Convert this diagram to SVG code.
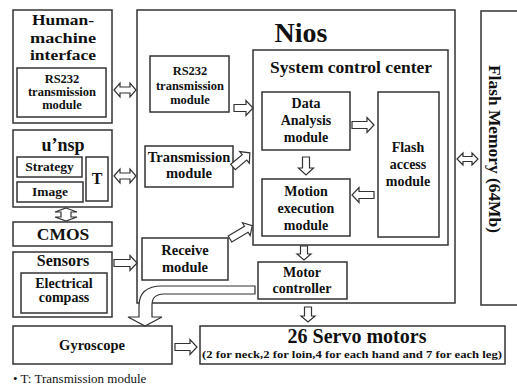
<svg xmlns="http://www.w3.org/2000/svg" width="517" height="387" viewBox="0 0 517 387" font-family="'Liberation Serif', 'DejaVu Serif', serif">
<style>
.box{fill:#fff;stroke:#333;stroke-width:1.5}
.arr{fill:#fff;stroke:#333;stroke-width:1.2;stroke-linejoin:miter}
text{font-family:'Liberation Serif','DejaVu Serif',serif;font-weight:bold;fill:#111;text-anchor:middle}
.t17{font-size:15px}
.t14{font-size:14px}
.t12{font-size:12.5px}
.t16{font-size:16px}
</style>
<rect width="517" height="387" fill="#fff"/>
<g id="nios">
<rect class="box" x="137" y="10" width="318" height="293"/>
<text x="301" y="42" style="font-size:28px">Nios</text>
</g>
<g id="flash-memory">
<rect class="box" x="481" y="11" width="40" height="294"/>
<text transform="translate(489,149) rotate(90)" style="font-size:17px" textLength="168" lengthAdjust="spacingAndGlyphs">Flash  Memory (64Mb)</text>
</g>
<g id="system-control-center">
<rect class="box" x="253" y="50" width="195" height="195"/>
<text x="351" y="73" class="t16" textLength="162" lengthAdjust="spacingAndGlyphs">System control center</text>
</g>
<g id="data-analysis">
<rect class="box" x="262" y="92" width="88" height="58"/>
<text x="306" y="108" class="t14">Data</text>
<text x="306" y="125" class="t14">Analysis</text>
<text x="306" y="142" class="t14">module</text>
</g>
<g id="flash-access">
<rect class="box" x="378" y="92" width="61" height="145"/>
<text x="408" y="152" class="t14">Flash</text>
<text x="408" y="169" class="t14">access</text>
<text x="408" y="186" class="t14">module</text>
</g>
<g id="motion-execution">
<rect class="box" x="262" y="179" width="88" height="57"/>
<text x="306" y="196" class="t14">Motion</text>
<text x="306" y="213" class="t14">execution</text>
<text x="306" y="230" class="t14">module</text>
</g>
<g id="motor-controller">
<rect class="box" x="258" y="262" width="89" height="37"/>
<text x="302" y="277" class="t14">Motor</text>
<text x="302" y="293" class="t14">controller</text>
</g>
<g id="rs232-nios">
<rect class="box" x="150" y="56" width="79" height="56"/>
<text x="190" y="75" class="t12">RS232</text>
<text x="190" y="90" class="t12">transmission</text>
<text x="190" y="104" class="t12">module</text>
</g>
<g id="transmission-module">
<rect class="box" x="145" y="146" width="88" height="41"/>
<text x="189" y="162" style="font-size:14.5px">Transmission</text>
<text x="189" y="178" style="font-size:14.5px">module</text>
</g>
<g id="receive-module">
<rect class="box" x="142" y="238" width="86" height="42"/>
<text x="185" y="255" style="font-size:14.5px">Receive</text>
<text x="185" y="272" style="font-size:14.5px">module</text>
</g>
<g id="hmi">
<rect class="box" x="13" y="10" width="99" height="113"/>
<text x="63" y="25" class="t17" textLength="62" lengthAdjust="spacingAndGlyphs">Human-</text>
<text x="63" y="42.5" class="t17" textLength="66" lengthAdjust="spacingAndGlyphs">machine</text>
<text x="63" y="60" class="t17" textLength="66" lengthAdjust="spacingAndGlyphs">interface</text>
</g>
<g id="rs232-hmi">
<rect class="box" x="17" y="68" width="89" height="49"/>
<text x="62" y="83" class="t12">RS232</text>
<text x="62" y="96" class="t12">transmission</text>
<text x="62" y="109" class="t12">module</text>
</g>
<g id="unsp">
<rect class="box" x="13" y="130" width="99" height="77"/>
<text x="63" y="151" style="font-size:18px">u’nsp</text>
</g>
<g id="strategy">
<rect class="box" x="17" y="157" width="65" height="20"/>
<text x="49.5" y="171" style="font-size:13.5px">Strategy</text>
</g>
<g id="image">
<rect class="box" x="17" y="182" width="66" height="20"/>
<text x="50" y="196" style="font-size:13.5px">Image</text>
</g>
<g id="t-box">
<rect class="box" x="86" y="157" width="22" height="44"/>
<text x="97" y="184" class="t16">T</text>
</g>
<g id="cmos">
<rect class="box" x="13" y="222" width="99" height="24"/>
<text x="63" y="240" style="font-size:17.5px">CMOS</text>
</g>
<g id="sensors">
<rect class="box" x="13" y="252" width="99" height="65"/>
<text x="63" y="266" class="t16">Sensors</text>
</g>
<g id="electrical-compass">
<rect class="box" x="21" y="273" width="86" height="40"/>
<text x="64" y="288" class="t14">Electrical</text>
<text x="64" y="302" class="t14">compass</text>
</g>
<g id="gyroscope">
<rect class="box" x="13" y="326" width="159" height="38"/>
<text x="92" y="350" style="font-size:14.5px">Gyroscope</text>
</g>
<g id="servo-motors">
<rect class="box" x="200" y="326" width="305" height="38"/>
<text x="357" y="343" style="font-size:20px">26 Servo motors</text>
<text x="352" y="358" style="font-size:11px" textLength="300" lengthAdjust="spacingAndGlyphs">(2 for neck,2 for loin,4 for each hand and 7 for each leg)</text>
</g>
<g id="connectors">
<path class="arr" d="M0,0 L6,-7 V-3 H16 V-7 L22,0 L16,7 V3 H6 V7 Z" transform="translate(114,90)"/>
<path class="arr" d="M0,0 L6,-7 V-3 H16 V-7 L22,0 L16,7 V3 H6 V7 Z" transform="translate(114,176)"/>
<path class="arr" d="M66,208 L77,212 H71 V217 H77 L66,221 L55,217 H61 V212 H55 Z"/>
<path class="arr" d="M0,-3.5 H16 V-7.5 L23,0 L16,7.5 V3.5 H0 Z" transform="translate(114,263)"/>
<path class="arr" d="M0,-3.5 H12 V-7.5 L19,0 L12,7.5 V3.5 H0 Z" transform="translate(234,108)"/>
<path class="arr" d="M0,-3.5 H15 V-7.5 L22,0 L15,7.5 V3.5 H0 Z" transform="translate(233,167) rotate(-40)"/>
<path class="arr" d="M0,-3.5 H19 V-7.5 L26,0 L19,7.5 V3.5 H0 Z" transform="translate(230,239) rotate(-31)"/>
<path class="arr" d="M0,-3.5 H15 V-7.5 L22,0 L15,7.5 V3.5 H0 Z" transform="translate(352,125)"/>
<path class="arr" d="M0,-3.5 H11 V-7.5 L18,0 L11,7.5 V3.5 H0 Z" transform="translate(306,157) rotate(90)"/>
<path class="arr" d="M0,-3.5 H15 V-7.5 L22,0 L15,7.5 V3.5 H0 Z" transform="translate(374,195) rotate(180)"/>
<path class="arr" d="M0,-3.5 H8 V-7 L14,0 L8,7 V3.5 H0 Z" transform="translate(304,246) rotate(90)"/>
<path class="arr" d="M0,-3.5 H9 V-7 L15,0 L9,7 V3.5 H0 Z" transform="translate(308,307) rotate(90)"/>
<path class="arr" d="M0,0 L6,-6 V-2.5 H15 V-6 L21,0 L15,6 V2.5 H6 V6 Z" transform="translate(457,159)"/>
<path class="arr" d="M0,-3.5 H15 V-7.5 L22,0 L15,7.5 V3.5 H0 Z" transform="translate(175,347)"/>
<path class="arr" d="M255,286 H162 Q139,286 139,306 V317 H128 L145,326 L162,317 H152 V305 Q152,294 164,294 H255 Z"/>
</g>
<text x="13" y="383" style="font-size:13px;font-weight:normal;text-anchor:start">• T: Transmission module</text>
</svg>
